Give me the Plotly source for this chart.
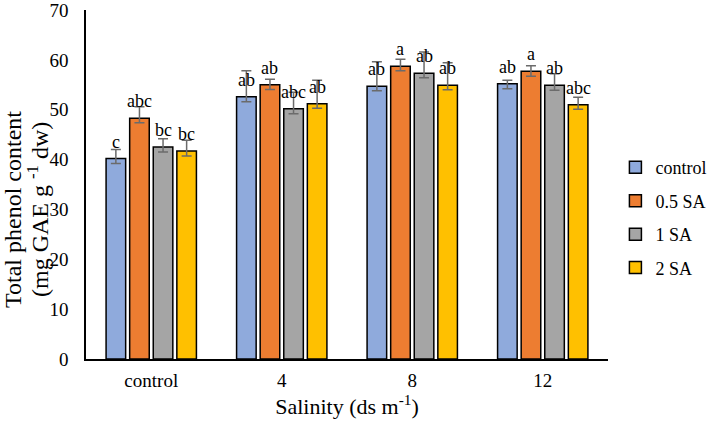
import plotly.graph_objects as go

categories = ["control", "4", "8", "12"]
series_names = ["control", "0.5 SA", "1 SA", "2 SA"]
colors = ["#8FAADC", "#ED7D31", "#A5A5A5", "#FFC000"]

values = {
    "control": [40.2, 52.6, 54.7, 55.2],
    "0.5 SA": [48.3, 55.0, 58.7, 57.7],
    "1 SA": [42.5, 50.2, 57.3, 54.9],
    "2 SA": [41.7, 51.2, 54.9, 51.0],
}
err_plus = {
    "control": [1.8, 5.2, 4.9, 0.7],
    "0.5 SA": [2.3, 1.1, 1.4, 1.1],
    "1 SA": [1.7, 3.3, 4.3, 2.3],
    "2 SA": [2.2, 4.7, 4.5, 1.5],
}
err_minus = {
    "control": [1.0, 1.0, 0.9, 1.0],
    "0.5 SA": [0.9, 0.95, 0.9, 1.0],
    "1 SA": [1.0, 1.0, 0.9, 1.0],
    "2 SA": [1.0, 0.9, 0.9, 0.9],
}
letters = {
    "control": ["c", "ab", "ab", "ab"],
    "0.5 SA": ["abc", "ab", "a", "a"],
    "1 SA": ["bc", "abc", "ab", "ab"],
    "2 SA": ["bc", "ab", "ab", "abc"],
}
y_title_lines = ["Total phenol content", "(mg GAE g <sup>-1</sup> dw)"]

FONT = "Liberation Serif"

fig = go.Figure()
for i, name in enumerate(series_names):
    fig.add_trace(go.Bar(
        name=name,
        x=categories,
        y=values[name],
        marker=dict(color=colors[i], line=dict(color="#000000", width=1.5)),
        error_y=dict(type="data", symmetric=False, array=err_plus[name],
                     arrayminus=err_minus[name], color="#6b6b6b",
                     thickness=1.5, width=5),
        legendgroup=name,
    ))

# letters above bars
nser = len(series_names)
bargap = 0.277
for i, name in enumerate(series_names):
    for j, cat in enumerate(categories):
        offset = -(1 - bargap) / 2 + (1 - bargap) / nser * (i + 0.5)
        fig.add_annotation(
            x=j + offset, y=values[name][j] + 3.4, xref="x", yref="y",
            text=letters[name][j], showarrow=False,
            font=dict(family=FONT, size=18, color="#000000"),
            yanchor="middle", xanchor="center",
        )

# y-axis title, two rotated lines
for k, (line, shift) in enumerate(zip(y_title_lines, [-73, -48])):
    fig.add_annotation(
        x=0, y=0.427, xref="paper", yref="paper", text=line,
        textangle=-90, showarrow=False, xanchor="center", yanchor="middle",
        xshift=shift, font=dict(family=FONT, size=24, color="#000000"),
    )

fig.update_layout(
    width=709, height=421,
    margin=dict(l=86, r=101, t=10, b=62),
    paper_bgcolor="white", plot_bgcolor="white",
    barmode="group", bargap=bargap, bargroupgap=0.17,
    font=dict(family=FONT, size=18, color="#000000"),
    legend=dict(xref="container", yref="container", x=0.868, y=0.483,
                xanchor="left", yanchor="middle", itemwidth=30,
                font=dict(family=FONT, size=18), tracegroupgap=7,
                bgcolor="rgba(0,0,0,0)"),
    xaxis=dict(
        showline=True, linecolor="#000000", linewidth=1.5,
        ticks="", showgrid=False, zeroline=False, automargin=False,
        tickfont=dict(family=FONT, size=19), ticklabelstandoff=3,
        title=dict(text="Salinity (ds m<sup>-1</sup>)", standoff=8,
                   font=dict(family=FONT, size=22)),
    ),
    yaxis=dict(
        range=[0, 70], dtick=10, showline=True, linecolor="#000000",
        linewidth=1.5, ticks="", showgrid=False, zeroline=False,
        automargin=False, ticklabeloverflow="allow",
        tickfont=dict(family=FONT, size=19), ticklabelstandoff=12,
    ),
)

fig.write_html("out.html", config={"displayModeBar": False},
               post_script="document.body.style.margin='0';")
